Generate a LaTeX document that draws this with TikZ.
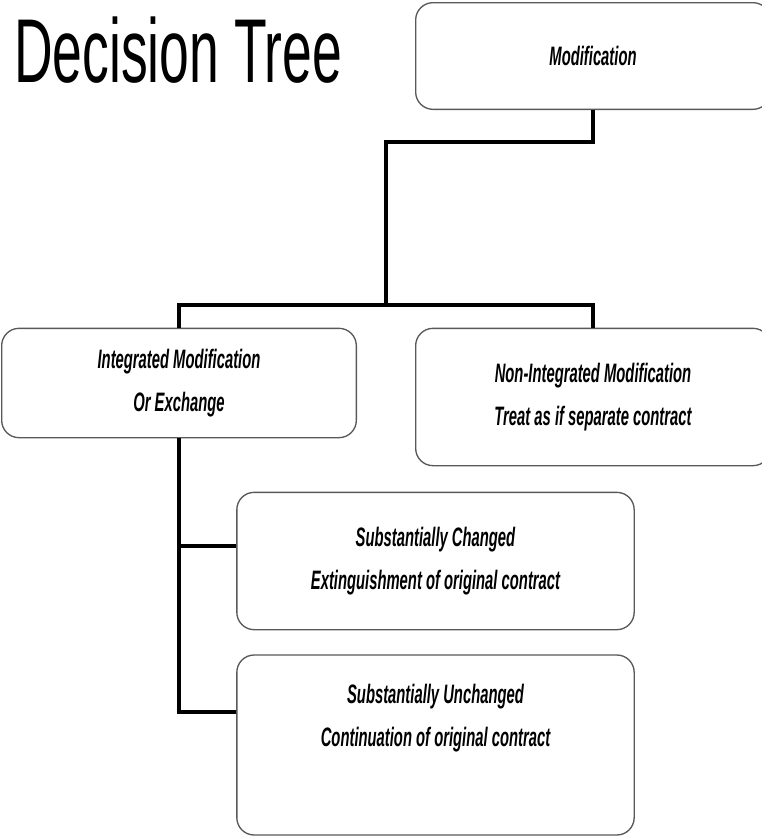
\documentclass[tikz,border=0pt]{standalone}
\usepackage{fontspec}
\newfontfamily\titlefont[FakeStretch=0.59]{Liberation Sans}
\newfontfamily\boxfont[FakeStretch=0.555]{Liberation Sans}
\usetikzlibrary{positioning}

\begin{document}
\begin{tikzpicture}[x=0.75pt,y=-0.75pt,
    box/.style={draw=black!65, line width=1pt, rounded corners=13pt, fill=white,
      align=center, inner sep=0pt,
      font=\boxfont\bfseries\itshape\fontsize{20}{32}\selectfont},
    boxtext/.style={align=center, inner sep=0pt,
      font=\boxfont\bfseries\itshape\fontsize{20}{32}\selectfont},
    conn/.style={line width=3pt}]
  \useasboundingbox[fill=white] (0,0) rectangle (762,836);

  \node (title) at (14,82) [anchor=base west, inner sep=0pt,
    font=\titlefont\fontsize{68}{78}\selectfont] {Decision Tree};

  \node (mod) at (593,56) [box, minimum width=266pt, minimum height=80pt] {Modification};
  \node (integ) at (179,383) [box, minimum width=266pt, minimum height=82pt]
    {Integrated Modification\\Or Exchange};
  \node (nonint) at (593,397) [box, minimum width=266pt, minimum height=103pt]
    {Non-Integrated Modification\\Treat as if separate contract};
  \node (chg) at (435.5,561) [box, minimum width=298pt, minimum height=103pt]
    {Substantially Changed\\Extinguishment of original contract};
  \node (unch) at (435.5,745) [box, minimum width=298pt, minimum height=135pt] {};
  \node (unchtext) at (435.5,718) [boxtext]
    {Substantially Unchanged\\Continuation of original contract};

  \coordinate (bend) at (386,142);
  \coordinate (split) at (386,305);
  \draw[conn] (mod.south) |- (bend) -- (split);
  \draw[conn] (integ.north) |- (split) -| (nonint.north);
  \draw[conn] (integ.south) |- (unch.west |- 0,712);
  \draw[conn] (integ.south |- 0,546) -- (chg.west |- 0,546);

\end{tikzpicture}
\end{document}
